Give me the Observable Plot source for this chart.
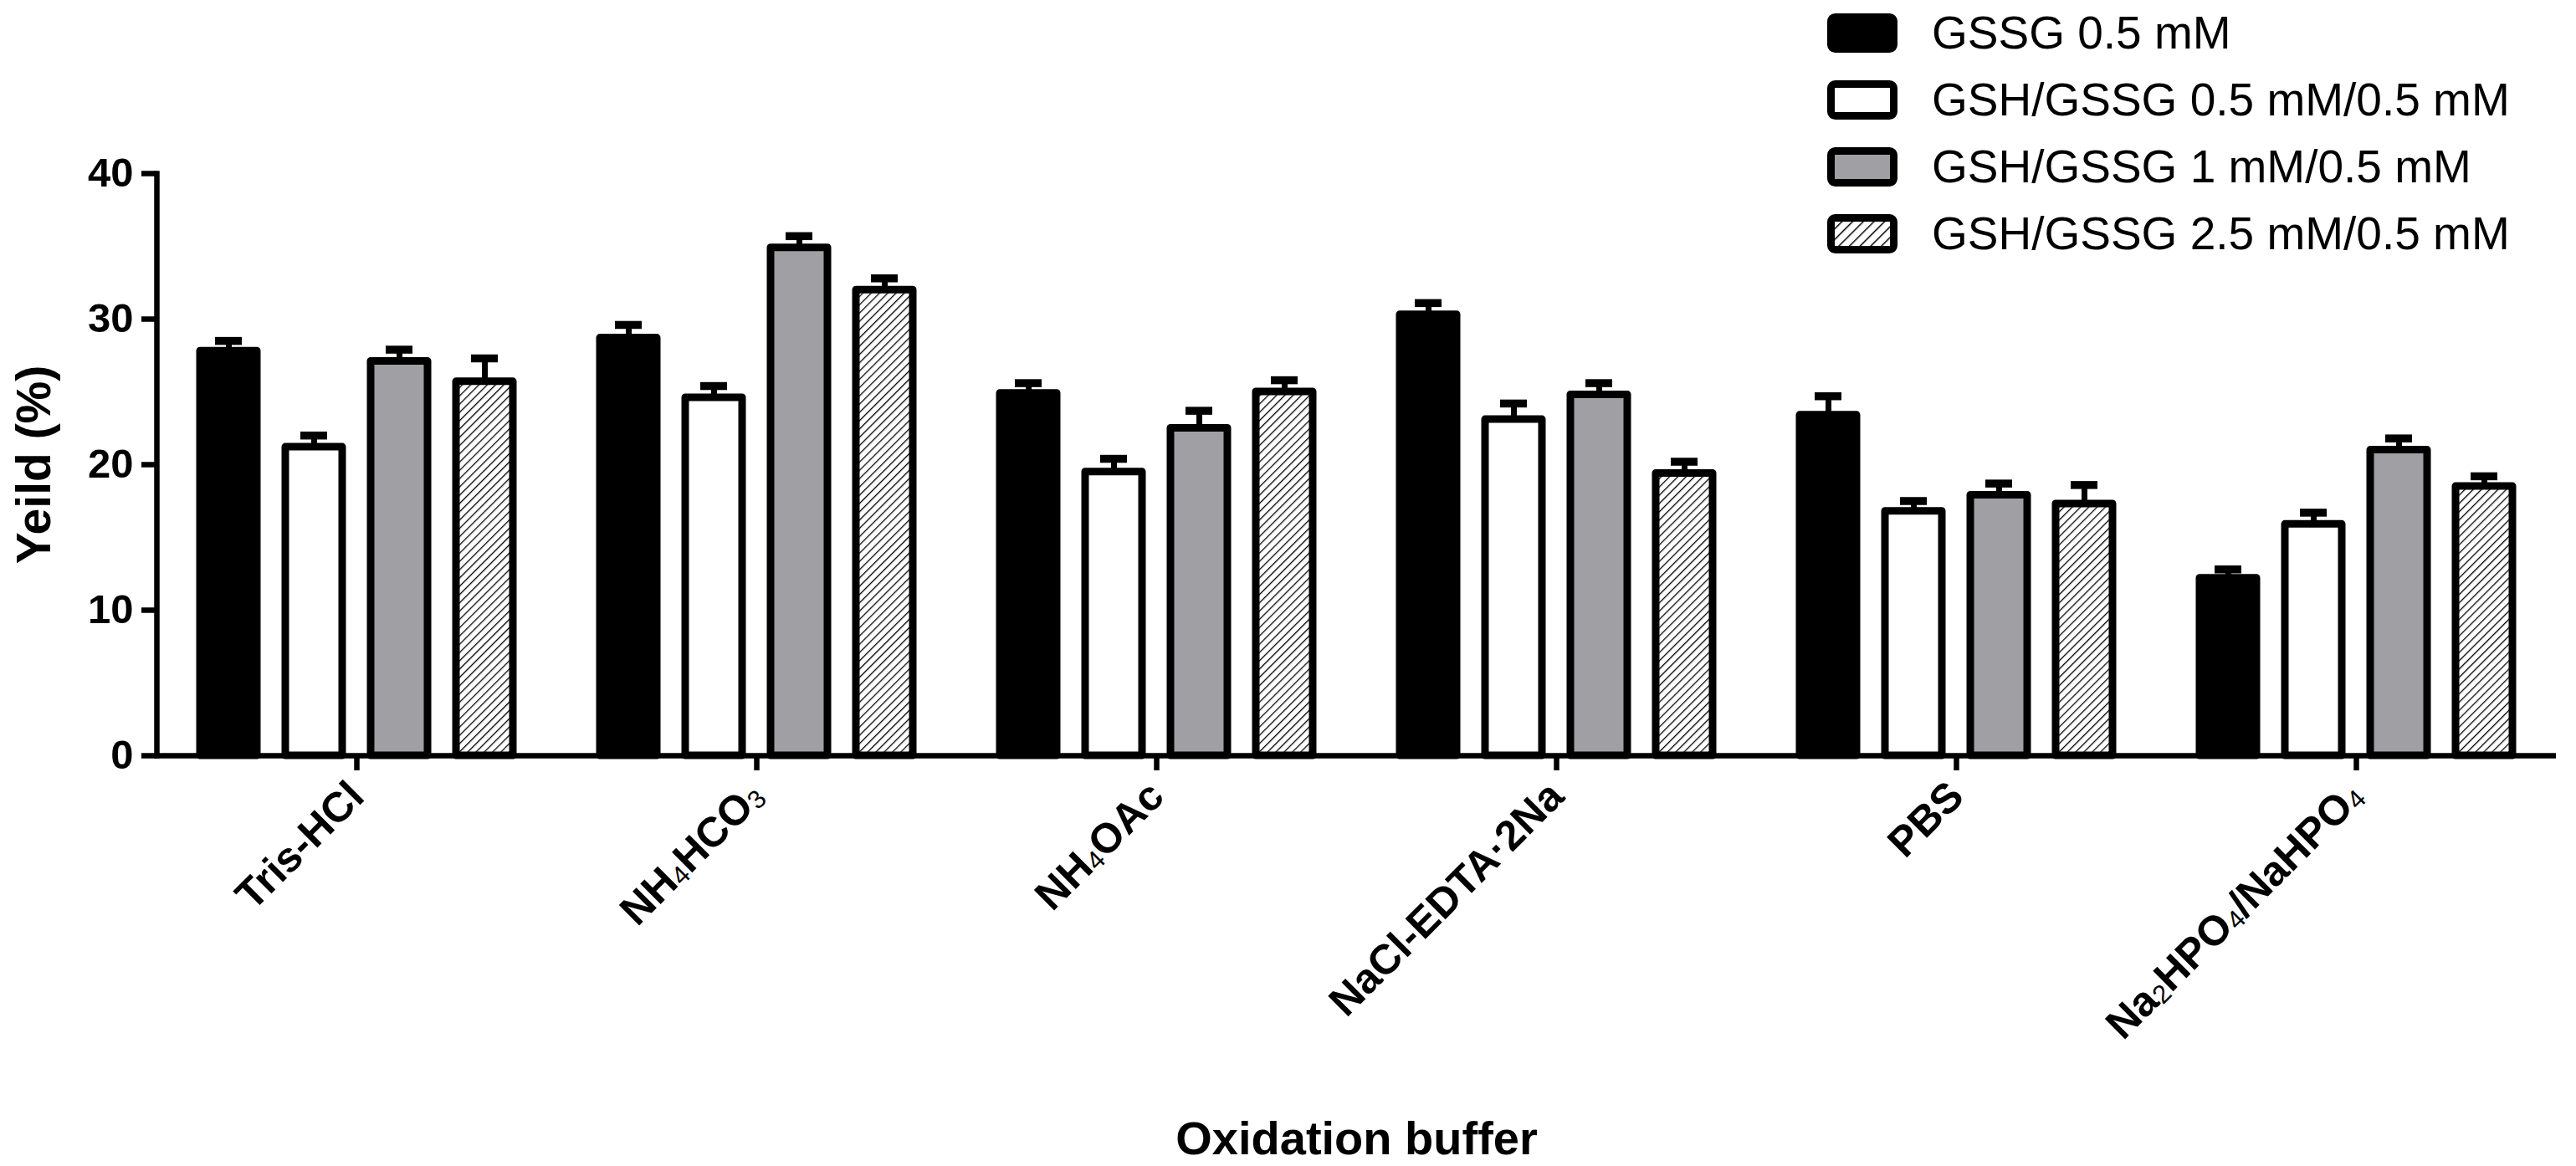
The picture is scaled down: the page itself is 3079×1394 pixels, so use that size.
<!DOCTYPE html>
<html><head><meta charset="utf-8">
<script src="https://cdn.jsdelivr.net/npm/d3@7"></script>
<script src="https://cdn.jsdelivr.net/npm/@observablehq/plot@0.6"></script>
<style>
body{margin:0;background:#fff;}
#wrap{position:relative;width:3079px;height:1394px;font-family:"Liberation Sans",Arial,sans-serif;}
#legend{position:absolute;left:2184px;top:-1px;}
.row{display:flex;align-items:center;height:80px;}
.row span{margin-left:41px;font-size:55px;line-height:1;color:#000;white-space:nowrap;}
.row svg{display:block;}
</style></head><body><div id="wrap"></div>
<script>
// ---- data ----
const buffers = ["Tris-HCl", "NH₄HCO₃", "NH₄OAc", "NaCl-EDTA·2Na", "PBS", "Na₂HPO₄/NaHPO₄"];
const series = ["GSSG 0.5 mM", "GSH/GSSG 0.5 mM/0.5 mM", "GSH/GSSG 1 mM/0.5 mM", "GSH/GSSG 2.5 mM/0.5 mM"];
const fills = ["#000000", "#ffffff", "#a0a0a4", "url(#hatch)"];
const gssg05   = [27.8, 28.7, 24.9, 30.3, 23.4, 12.2];
const gsh05    = [21.2, 24.6, 19.5, 23.1, 16.8, 15.9];
const gsh1     = [27.1, 34.9, 22.5, 24.8, 17.9, 21.0];
const gsh25    = [25.7, 32.0, 25.0, 19.4, 17.3, 18.5];
const errGssg05 = [0.7, 0.9, 0.7, 0.8, 1.3, 0.6];
const errGsh05  = [0.8, 0.8, 0.9, 1.1, 0.7, 0.8];
const errGsh1   = [0.8, 0.8, 1.2, 0.8, 0.8, 0.8];
const errGsh25  = [1.6, 0.8, 0.8, 0.8, 1.3, 0.7];
const yTicks = [0, 10, 20, 30, 40];
const xTitle = "Oxidation buffer";
const yTitle = "Yeild (%)";

const values = [gssg05, gsh05, gsh1, gsh25];
const errors = [errGssg05, errGsh05, errGsh1, errGsh25];
const data = series.flatMap((s, i) => buffers.map((b, j) => ({buffer: b, series: s, value: values[i][j], err: errors[i][j]})));

const font = '"Liberation Sans", Arial, Helvetica, sans-serif';

const chart = Plot.plot({
  width: 3079, height: 1394,
  marginLeft: 185, marginRight: 23, marginTop: 207, marginBottom: 491,
  style: {fontFamily: font, background: "white", color: "black", overflow: "visible"},
  fx: {domain: buffers, padding: 0, label: null},
  x: {domain: series, paddingInner: 0.33, paddingOuter: 0.49, axis: null},
  y: {domain: [0, 40]},
  color: {type: "ordinal", domain: series, range: fills},
  marks: [
    Plot.ruleX(data, {fx: "buffer", x: "series", y1: "value", y2: d => d.value + d.err, stroke: "black", strokeWidth: 7}),
    Plot.tickY(data, {fx: "buffer", x: "series", y: d => d.value + d.err, stroke: "black", strokeWidth: 9.5, insetLeft: 18, insetRight: 18}),
    Plot.barY(data, {fx: "buffer", x: "series", y: "value", fill: "series", stroke: "black", strokeWidth: 9, strokeLinejoin: "round"}),
    Plot.ruleY([0], {stroke: "black", strokeWidth: 6.5}),
    Plot.frame({anchor: "left", facetAnchor: "left", stroke: "black", strokeWidth: 6.5}),
    Plot.axisY({ticks: yTicks, tickSize: 18, tickPadding: 10, tickFormat: d => String(d), fontSize: 49, fontWeight: "bold", strokeWidth: 6.5, label: yTitle, labelAnchor: "center", labelArrow: "none", labelOffset: 168}),
    Plot.axisFx({anchor: "bottom", tickSize: 18, tickPadding: 22, tickRotate: -45, fontSize: 50, fontWeight: "bold", strokeWidth: 6.5, label: xTitle, labelAnchor: "center", labelArrow: "none", labelOffset: 476})
  ]
});

// pattern definition for the hatched series
const svgSel = d3.select(chart.tagName.toLowerCase() === "svg" ? chart : chart.querySelector("svg"));
const defs = svgSel.insert("defs", ":first-child");
function addHatch(defsSel, id, size, lw) {
  const p = defsSel.append("pattern").attr("id", id).attr("patternUnits", "userSpaceOnUse")
    .attr("width", size).attr("height", size).attr("patternTransform", "rotate(45)");
  p.append("rect").attr("width", size).attr("height", size).attr("fill", "white");
  p.append("line").attr("x1", 0).attr("y1", 0).attr("x2", 0).attr("y2", size).attr("stroke", "black").attr("stroke-width", lw);
}
addHatch(defs, "hatch", 7, 2.6);

// axis title sizes
svgSel.selectAll("text").filter(function() { return this.textContent === yTitle; }).attr("font-size", 57).style("font-size", "57px");
svgSel.selectAll("text").filter(function() { return this.textContent === xTitle; }).attr("font-size", 56).style("font-size", "56px");

// chemical subscripts as smaller, regular-weight digits
const subs = "₀₁₂₃₄₅₆₇₈₉";
svgSel.selectAll('g[aria-label="fx-axis tick label"] text').each(function() {
  const t = d3.select(this);
  const s = t.text();
  if (![...s].some(c => subs.includes(c))) return;
  const runs = [];
  for (const ch of s) {
    const isSub = subs.includes(ch);
    const c = isSub ? String(subs.indexOf(ch)) : ch;
    if (runs.length && runs[runs.length - 1].sub === isSub) runs[runs.length - 1].t += c;
    else runs.push({sub: isSub, t: c});
  }
  t.text("");
  let down = false;
  runs.forEach(r => {
    const ts = t.append("tspan").text(r.t);
    if (r.sub) { ts.attr("font-size", "0.62em").attr("font-weight", "normal").attr("dy", "0.1em"); down = true; }
    else if (down) { ts.attr("dy", "-0.062em"); down = false; }
  });
});

const wrap = document.getElementById("wrap");
wrap.appendChild(chart);

// legend
const legend = d3.select(wrap).append("div").attr("id", "legend");
const lsvg = legend.append("svg").attr("width", 0).attr("height", 0).style("position", "absolute");
addHatch(lsvg.append("defs"), "hatchL", 9, 3);
series.forEach((s, i) => {
  const row = legend.append("div").attr("class", "row");
  const sw = row.append("svg").attr("width", 84).attr("height", 47);
  sw.append("rect").attr("x", 4.5).attr("y", 4.5).attr("width", 75).attr("height", 38).attr("rx", 5)
    .attr("fill", fills[i] === "url(#hatch)" ? "url(#hatchL)" : fills[i]).attr("stroke", "black").attr("stroke-width", 9);
  row.append("span").text(s);
});
</script></body></html>
